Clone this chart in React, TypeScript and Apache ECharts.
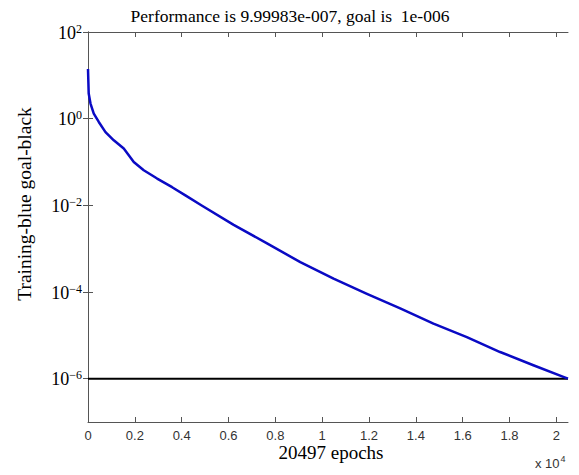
import React, { useEffect, useRef } from "react";
import * as echarts from "echarts";

const epochs = [0, 30, 107, 247, 461, 747, 1101, 1527, 1741, 1954, 2380, 2952, 3592, 4159, 4872, 6220, 7645, 9066, 10486, 11911, 13331, 14752, 16177, 17597, 19018, 20298, 20497];
const performance = [14, 3.8, 2.23, 1.31, 0.84, 0.49, 0.317, 0.204, 0.143, 0.1, 0.0645, 0.0415, 0.0262, 0.017, 0.0098, 0.00355, 0.00132, 4.9e-4, 2.04e-4, 9.1e-5, 4.17e-5, 1.86e-5, 9.1e-6, 4.12e-6, 2.04e-6, 1.1e-6, 9.99983e-7];
const goal = 1e-6;
const totalEpochs = 20497;
const yTicks = [1e-6, 1e-4, 1e-2, 1, 100];
const xTicks = [0, 2000, 4000, 6000, 8000, 10000, 12000, 14000, 16000, 18000, 20000];
const titleText = "Performance is 9.99983e-007, goal is  1e-006";
const yName = "Training-blue goal-black";
const xName = "20497 epochs";

const SERIF = "Liberation Serif";
const SANS = "Liberation Sans";

export default function App() {
  const ref = useRef<HTMLDivElement>(null);
  useEffect(() => {
    document.body.style.margin = "0";
    const chart = echarts.init(ref.current!, undefined, { renderer: "svg" });
    const axisLine = { show: true, lineStyle: { color: "#555", width: 1 } };
    const tickStyle = { inside: true, length: 5, lineStyle: { color: "#555" } };
    const supLabel = (v: number) => {
      const e = Math.round(Math.log10(v));
      const s = e < 0 ? "\u2212" + String(-e) : String(e);
      return `{b|10}{s|${s}}`;
    };
    const rich = {
      b: { fontFamily: SERIF, fontSize: 18, color: "#000", verticalAlign: "bottom" },
      s: { fontFamily: SERIF, fontSize: 12, color: "#000", verticalAlign: "top", padding: [0, 0, 7, 0] },
    };
    chart.setOption({
      animation: false,
      backgroundColor: "#fff",
      grid: { left: 88, top: 32, right: 11, bottom: 53 },
      xAxis: [
        {
          type: "value",
          min: 0,
          max: totalEpochs,
          axisLine,
          axisTick: { ...tickStyle, customValues: xTicks },
          axisLabel: {
            customValues: xTicks,
            formatter: (v: number) => String(+(v / 10000).toFixed(1)),
            fontFamily: SANS,
            fontSize: 13,
            color: "#333",
            margin: 7,
          },
          splitLine: { show: false },
        },
        {
          type: "value",
          position: "top",
          min: 0,
          max: totalEpochs,
          axisLine,
          axisTick: { ...tickStyle, customValues: xTicks },
          axisLabel: { show: false },
          splitLine: { show: false },
        },
      ],
      yAxis: [
        {
          type: "log",
          logBase: 10,
          min: 1e-7,
          max: 100,
          axisLine,
          axisTick: { ...tickStyle, customValues: yTicks },
          axisLabel: { customValues: yTicks, formatter: supLabel, rich, margin: 6 },
          splitLine: { show: false },
        },
        {
          type: "log",
          logBase: 10,
          position: "right",
          min: 1e-7,
          max: 100,
          axisLine,
          axisTick: { ...tickStyle, customValues: yTicks },
          axisLabel: { show: false },
          splitLine: { show: false },
        },
      ],
      graphic: [
        {
          type: "text",
          x: 290,
          y: 16,
          style: {
            text: titleText,
            fontFamily: SERIF,
            fontSize: 17.5,
            fill: "#000",
            align: "center",
            verticalAlign: "middle",
          },
        },
        {
          type: "text",
          x: 331,
          y: 452,
          style: {
            text: xName,
            fontFamily: SERIF,
            fontSize: 19,
            fill: "#000",
            align: "center",
            verticalAlign: "middle",
          },
        },
        {
          type: "text",
          x: 24,
          y: 204,
          rotation: Math.PI / 2,
          style: {
            text: yName,
            fontFamily: SERIF,
            fontSize: 19.5,
            fill: "#000",
            align: "center",
            verticalAlign: "middle",
          },
        },
        {
          type: "text",
          left: 535,
          top: 454,
          style: {
            text: "{a|x 10}{p|4}",
            rich: {
              a: { fontFamily: SANS, fontSize: 13, fill: "#333", verticalAlign: "bottom" },
              p: { fontFamily: SANS, fontSize: 9, fill: "#333", verticalAlign: "top", padding: [0, 0, 7, 1] },
            },
          },
        },
      ],
      series: [
        {
          type: "line",
          name: "Goal",
          xAxisIndex: 0,
          yAxisIndex: 0,
          data: [[0, goal], [totalEpochs, goal]],
          showSymbol: false,
          lineStyle: { color: "#000", width: 2 },
          z: 2,
        },
        {
          type: "line",
          name: "Training",
          xAxisIndex: 0,
          yAxisIndex: 0,
          data: epochs.map((e, i) => [e, performance[i]]),
          showSymbol: false,
          lineStyle: { color: "#0a0ac4", width: 2.5, join: "round" },
          z: 3,
        },
      ],
    });
    return () => chart.dispose();
  }, []);
  return <div ref={ref} style={{ width: 579, height: 475, position: "absolute", left: 0, top: 0 }} />;
}
